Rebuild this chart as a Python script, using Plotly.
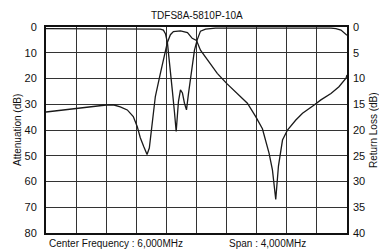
import plotly.graph_objects as go

title_text = "TDFS8A-5810P-10A"
center_label = "Center Frequency : 6,000MHz"
span_label = "Span : 4,000MHz"

att_ticks = [0, 10, 20, 30, 40, 50, 60, 70, 80]
rl_ticks = [0, 5, 10, 15, 20, 25, 30, 35, 40]

# Attenuation curve (MHz, dB)
att_freq = [4000, 4400, 4800, 4893, 4987, 5080, 5160, 5213, 5253, 5300, 5343,
            5373, 5400, 5427, 5453, 5520, 5587, 5613, 5653, 5693, 5787, 5880,
            5943, 6000, 6053, 6143, 6276, 6400, 6543, 6676, 6787, 6876, 6964,
            7009, 7053, 7089, 7143, 7209, 7320, 7409, 7564, 7653, 7787, 7893,
            7987, 8000]
att_db = [33.0, 31.6, 30.3, 30.2, 31.0, 32.2, 34.8, 38.7, 43.0, 46.5, 49.5,
          47.0, 40.4, 33.8, 27.0, 18.0, 10.0, 6.0, 3.0, 1.8, 1.5, 2.2,
          4.4, 5.2, 9.0, 12.8, 18.0, 21.9, 25.8, 29.6, 34.8, 39.5, 49.0,
          55.5, 67.0, 54.0, 43.9, 40.0, 36.1, 33.5, 30.3, 28.3, 25.8, 23.2,
          19.9, 18.6]

# Return loss curve (MHz, dB)
rl_freq = [4000, 4720, 5387, 5520, 5560, 5587, 5613, 5633, 5653, 5680, 5707,
           5730, 5747, 5760, 5787, 5813, 5840, 5867, 5893, 5920, 5947, 5973,
           6009, 6053, 6120, 6253, 7787, 7853, 7920, 7964, 8000]
rl_db = [0.3, 0.3, 0.3, 0.4, 0.6, 1.3, 3.0, 5.5, 8.5, 12.5, 16.5,
         20.3, 17.0, 14.5, 12.2, 12.8, 14.8, 16.1, 13.0, 9.9, 6.8, 4.5,
         2.5, 0.8, 0.4, 0.2, 0.2, 0.3, 0.6, 1.2, 1.6]

font_family = "Liberation Sans, Arial, sans-serif"
line_col = "#1a1a1a"

fig = go.Figure()
fig.add_trace(go.Scatter(x=att_freq, y=att_db, mode="lines",
                         line=dict(color=line_col, width=1.3), yaxis="y",
                         showlegend=False, hoverinfo="skip"))
fig.add_trace(go.Scatter(x=rl_freq, y=rl_db, mode="lines",
                         line=dict(color=line_col, width=1.3), yaxis="y2",
                         showlegend=False, hoverinfo="skip"))

fig.update_layout(
    width=379, height=250,
    margin=dict(l=46, r=32, t=27, b=17),
    paper_bgcolor="white", plot_bgcolor="white",
    font=dict(family=font_family, color="#111", size=11),
    xaxis=dict(range=[4000, 8000], dtick=400, tick0=4000, showticklabels=False,
               showgrid=True, gridcolor="#333", gridwidth=1, zeroline=False,
               showline=True, linecolor="#111", linewidth=2, mirror=True,
               ticks=""),
    yaxis=dict(range=[80, 0], tickvals=att_ticks,
               ticktext=[str(v) for v in att_ticks],
               showgrid=True, gridcolor="#333", gridwidth=1, zeroline=False,
               showline=True, linecolor="#111", linewidth=2, mirror=True,
               ticks="", ticklabelstandoff=5, tickfont=dict(size=11)),
    yaxis2=dict(range=[40, 0], tickvals=rl_ticks,
                ticktext=[str(v) for v in rl_ticks],
                overlaying="y", side="right", showgrid=False, zeroline=False,
                ticks="", ticklabelstandoff=5, tickfont=dict(size=11)),
    annotations=[
        dict(text=title_text, xref="paper", yref="paper", x=0.5, y=1,
             yshift=12, xanchor="center", yanchor="middle", showarrow=False,
             font=dict(size=10)),
        dict(text="Attenuation (dB)", xref="paper", yref="paper", x=0, y=0.5,
             xshift=-29, xanchor="center", yanchor="middle", textangle=-90,
             showarrow=False, font=dict(size=10)),
        dict(text="Return Loss (dB)", xref="paper", yref="paper", x=1, y=0.5,
             xshift=26, xanchor="center", yanchor="middle", textangle=-90,
             showarrow=False, font=dict(size=10)),
        dict(text=center_label, xref="paper", yref="paper", x=0, y=0,
             xshift=1, yshift=-10, xanchor="left", yanchor="middle",
             showarrow=False, font=dict(size=10)),
        dict(text=span_label, xref="paper", yref="paper", x=0.870, y=0,
             yshift=-10, xanchor="right", yanchor="middle",
             showarrow=False, font=dict(size=10)),
    ],
)

fig.write_html(
    "out.html",
    config={"displayModeBar": False, "staticPlot": True},
    post_script="document.body.style.margin='0';document.body.style.overflow='hidden';",
)
